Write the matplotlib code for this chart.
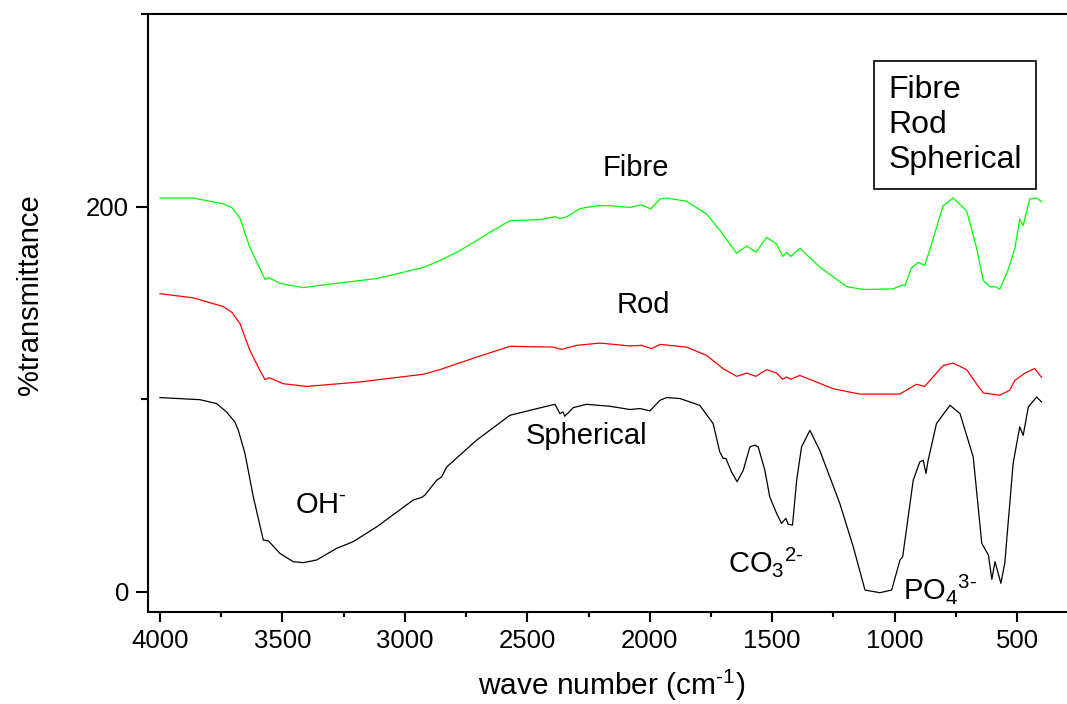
import numpy as np
import matplotlib
matplotlib.use("Agg")
import matplotlib.pyplot as plt
from matplotlib.lines import Line2D
from matplotlib.ticker import MultipleLocator

plt.rcParams["font.family"] = ["Liberation Sans", "DejaVu Sans"]
plt.rcParams["mathtext.fontset"] = "custom"
plt.rcParams["mathtext.rm"] = "Liberation Sans"
plt.rcParams["mathtext.it"] = "Liberation Sans:italic"
plt.rcParams["mathtext.bf"] = "Liberation Sans:bold"

# FTIR spectra (wavenumber in cm-1, %T offset)
fibre_wn = [4000, 3865, 3743, 3706, 3673, 3633, 3592, 3571, 3555, 3510, 3416,
            3294, 3114, 2979, 2926, 2885, 2849, 2775, 2640, 2571, 2448, 2387,
            2367, 2338, 2285, 2216, 2163, 2081, 2033, 1996, 1958, 1931, 1850,
            1768, 1713, 1645, 1604, 1566, 1523, 1482, 1457, 1441, 1425, 1387,
            1305, 1196, 1128, 1006, 968, 958, 931, 904, 877, 849, 802, 761,
            706, 666, 638, 611, 591, 570, 538, 509, 489, 475, 448, 420, 400]
fibre_t = [204.5, 204.5, 201.5, 199.5, 193.8, 178.8, 167.9, 162.2, 163.2, 160.1,
           158.0, 160.0, 162.7, 166.8, 168.4, 170.5, 172.5, 177.2, 187.6, 192.7,
           193.3, 194.8, 193.8, 194.8, 199.0, 200.5, 200.5, 199.6, 200.9, 198.8,
           204.0, 204.5, 202.8, 196.2, 187.6, 175.8, 179.6, 176.3, 184.1, 180.6,
           174.1, 176.3, 174.1, 178.4, 168.6, 158.5, 157.0, 157.3, 159.4, 158.9,
           168.2, 171.1, 169.4, 180.7, 200.5, 204.5, 197.9, 178.9, 161.7, 158.5,
           158.5, 157.2, 166.8, 178.2, 193.6, 190.2, 204.0, 204.5, 202.6]

rod_wn = [4000, 3865, 3743, 3707, 3673, 3633, 3592, 3571, 3554, 3497, 3401,
          3183, 2925, 2857, 2707, 2571, 2394, 2360, 2299, 2203, 2081, 2033,
          1992, 1958, 1850, 1768, 1700, 1645, 1604, 1566, 1523, 1482, 1457,
          1441, 1425, 1387, 1251, 1143, 980, 952, 911, 877, 843, 802, 761,
          706, 666, 638, 570, 530, 509, 469, 428, 400]
rod_t = [154.8, 152.7, 148.2, 145.2, 139.2, 125.4, 115.0, 110.2, 111.2, 108.1,
         106.7, 109.0, 113.0, 115.4, 121.9, 127.5, 127.1, 125.9, 128.0, 129.2,
         127.7, 128.0, 126.3, 128.5, 127.1, 122.8, 115.9, 111.9, 113.6, 111.9,
         115.4, 113.6, 110.4, 111.6, 110.4, 112.4, 105.5, 102.7, 102.7, 104.7,
         107.8, 106.7, 111.6, 117.5, 118.8, 115.4, 108.1, 103.3, 102.1, 104.7,
         109.8, 113.5, 116.0, 111.4]

sph_wn = [4000, 3837, 3769, 3728, 3694, 3680, 3653, 3619, 3578, 3558, 3510,
          3456, 3415, 3360, 3279, 3211, 3115, 2966, 2931, 2918, 2870, 2850,
          2829, 2707, 2571, 2476, 2387, 2367, 2354, 2347, 2312, 2258, 2163,
          2081, 2040, 1999, 1958, 1931, 1877, 1796, 1741, 1714, 1700, 1689,
          1666, 1643, 1618, 1591, 1571, 1557, 1530, 1510, 1482, 1462, 1444,
          1435, 1417, 1400, 1380, 1346, 1306, 1224, 1169, 1121, 1060, 1012,
          978, 967, 924, 897, 883, 872, 863, 829, 774, 733, 679, 644, 617,
          603, 590, 566, 550, 516, 489, 475, 454, 420, 400]
sph_t = [100.9, 99.8, 97.8, 93.4, 88.2, 83.9, 71.9, 49.4, 26.9, 26.6, 20.0,
         15.7, 15.2, 16.6, 22.6, 26.1, 33.8, 47.7, 49.1, 50.3, 58.0, 59.7,
         64.9, 78.8, 91.7, 94.7, 97.4, 92.6, 93.4, 91.2, 95.7, 97.4, 96.4,
         94.7, 95.2, 94.0, 99.5, 100.9, 100.4, 96.9, 87.4, 72.7, 69.3, 69.3,
         62.3, 57.2, 63.2, 75.3, 76.2, 75.3, 63.2, 49.4, 40.8, 35.6, 38.2,
         35.2, 34.7, 58.0, 75.3, 83.9, 73.6, 46.0, 23.5, 1.0, -0.4, 1.0,
         16.6, 18.3, 58.0, 67.5, 68.4, 61.5, 68.4, 87.4, 96.9, 92.6, 70.1,
         25.2, 19.2, 6.6, 15.7, 4.5, 15.0, 66.7, 85.7, 81.3, 96.0, 101.2, 98.6]

series_names = ["Fibre", "Rod", "Spherical"]
series_colors = ["#00ff00", "#ff0000", "#000000"]

fig = plt.figure(figsize=(10.67, 7.04), dpi=100)
ax = fig.add_axes([0.1387, 0.1307, 0.8613, 0.8494])

ax.plot(fibre_wn, fibre_t, color=series_colors[0], lw=0.9)
ax.plot(rod_wn, rod_t, color=series_colors[1], lw=0.9)
ax.plot(sph_wn, sph_t, color=series_colors[2], lw=0.9)

ax.set_xlim(4049, 296)
ax.set_ylim(-10.4, 300)

ax.xaxis.set_major_locator(MultipleLocator(500))
ax.xaxis.set_minor_locator(MultipleLocator(250))
ax.yaxis.set_major_locator(MultipleLocator(200))
ax.yaxis.set_minor_locator(MultipleLocator(100))
ax.tick_params(axis="x", which="major", length=7, width=1.5, labelsize=18.5, pad=5)
ax.tick_params(axis="x", which="minor", length=3.6, width=1.5)
ax.tick_params(axis="y", which="major", length=8.6, width=1.5, labelsize=18.5, pad=5)
ax.tick_params(axis="y", which="minor", length=5, width=1.5)

for side in ["left", "bottom", "top"]:
    ax.spines[side].set_linewidth(1.5)
ax.spines["right"].set_visible(False)

ax.set_xlabel(r"wave number (cm$^{\text{-}1}$)", fontsize=21.5)
ax.xaxis.set_label_coords(0.505, -0.139)
ax.xaxis.label.set_va("baseline")
ax.set_ylabel("%transmittance", fontsize=21)
ax.yaxis.set_label_coords(-0.128, 0.53)
ax.yaxis.label.set_va("center")

# curve and band labels
ax.text(2056, 216, "Fibre", fontsize=21, ha="center", va="baseline")
ax.text(2028, 145, "Rod", fontsize=21, ha="center", va="baseline")
ax.text(2258, 76.7, "Spherical", fontsize=21, ha="center", va="baseline")
ax.text(3449, 41, r"OH$^{\text{-}}$", fontsize=21, ha="left", va="baseline")
ax.text(1681, 10.4, r"CO$_{3}{}^{2\text{-}}$", fontsize=21, ha="left", va="baseline")
ax.text(966, -4, r"PO$_{4}{}^{3\text{-}}$", fontsize=21, ha="left", va="baseline")

handles = [Line2D([], [], linestyle="none") for _ in series_names]
leg = ax.legend(handles, series_names, loc="upper left",
                bbox_to_anchor=(874 / 1067, 1 - 61 / 704),
                bbox_transform=fig.transFigure, borderaxespad=0,
                handlelength=0, handletextpad=0, fontsize=23,
                fancybox=False, framealpha=1, edgecolor="black",
                borderpad=0.45, labelspacing=0.15)
leg.get_frame().set_linewidth(1.2)

plt.savefig("out.png", dpi=100)
plt.close()
